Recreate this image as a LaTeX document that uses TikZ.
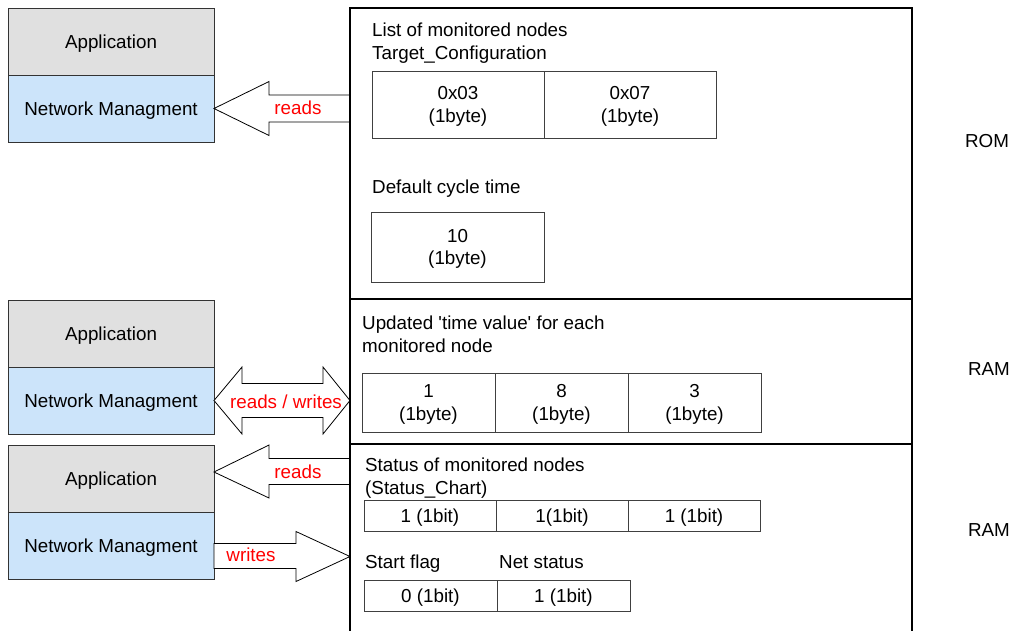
\documentclass[tikz,border=0pt]{standalone}
\usepackage{fontspec}
\setmainfont{Liberation Sans}
\usetikzlibrary{positioning}
\definecolor{appgray}{RGB}{224,224,224}
\definecolor{nmblue}{RGB}{204,228,250}
\begin{document}
\begin{tikzpicture}[x=1pt,y=-1pt,font=\fontsize{18.8}{22.5}\selectfont,
  layer/.style={draw=black!80,line width=0.8pt,minimum width=206,minimum height=67,inner sep=0,outer sep=0,text depth=0pt},
  app/.style={layer,fill=appgray},
  nm/.style={layer,fill=nmblue},
  region/.style={draw,line width=2pt,minimum width=562,inner sep=0,outer sep=0},
  cell/.style={draw=black!75,line width=0.8pt,align=center,inner sep=0,outer sep=0,text depth=0pt},
  caption/.style={anchor=west,align=left,inner sep=0,text depth=0pt},
  blockarr/.style={draw,fill=white,line width=0.8pt},
  acc/.style={text=red,inner sep=0,text depth=0pt}]

\useasboundingbox (0,0) rectangle (1018,630);

\node[app] (app1) at (111,41.5) {Application};
\node[nm,below=0pt of app1] (nm1) {Network Managment};
\node[app] (app2) at (111,333.5) {Application};
\node[nm,below=0pt of app2] (nm2) {Network Managment};
\node[app] (app3) at (111,478.5) {Application};
\node[nm,below=0pt of app3] (nm3) {Network Managment};

\draw[blockarr] (nm1.east) -- ++(55,-27) -- ++(0,13.5) -- ++(81,0) -- ++(0,27) -- ++(-81,0) -- ++(0,13.5) -- cycle;
\draw[blockarr] (nm2.east) -- ++(28,-33.5) -- ++(0,16.5) -- ++(81,0) -- ++(0,-16.5) -- ++(27,33.5) -- ++(-27,33.5) -- ++(0,-16.5) -- ++(-81,0) -- ++(0,16.5) -- cycle;
\draw[blockarr] (app3.east) ++(0,-6.5) -- ++(55,-27) -- ++(0,13.5) -- ++(81,0) -- ++(0,26) -- ++(-81,0) -- ++(0,13.5) -- cycle;
\draw[blockarr] (nm3.east) ++(0,-2) -- ++(82,0) -- ++(0,-12) -- ++(54,25) -- ++(-54,25) -- ++(0,-13) -- ++(-82,0) -- cycle;

\node[acc] (rd1) at (298,107.5) {reads};
\node[acc] (rw2) at (286,401.5) {reads / writes};
\node[acc] (rd3) at (298,471.5) {reads};
\node[acc] (wr3) at (251,554.5) {writes};

\node[region,minimum height=291] (rom) at (631,153.5) {};
\node[region,minimum height=145,below=0pt of rom] (ram1) {};
\node[region,minimum height=200,below=0pt of ram1] (ram2) {};

\node (romtag) at (987,141) {ROM};
\node (ramtag1) at (989,369) {RAM};
\node (ramtag2) at (989,530) {RAM};

\node[caption] (lst) at (372,41) {List of monitored nodes\\Target\_Configuration};
\node[cell,minimum width=172,minimum height=67] (id1) at (458,104.5) {0x03\\(1byte)};
\node[cell,minimum width=172,minimum height=67,right=0pt of id1] (id2) {0x07\\(1byte)};
\node[caption] (dct) at (372,187) {Default cycle time};
\node[cell,minimum width=173,minimum height=70] (cyc) at (457.5,247) {10\\(1byte)};

\node[caption] (upd) at (362,334) {Updated \textquotesingle time value\textquotesingle{} for each\\monitored node};
\node[cell,minimum width=133,minimum height=59] (tv1) at (428.5,402.5) {1\\(1byte)};
\node[cell,minimum width=133,minimum height=59,right=0pt of tv1] (tv2) {8\\(1byte)};
\node[cell,minimum width=133,minimum height=59,right=0pt of tv2] (tv3) {3\\(1byte)};

\node[caption] (sta) at (365,476) {Status of monitored nodes\\(Status\_Chart)};
\node[cell,minimum width=132,minimum height=31] (sc1) at (430,515.5) {1 (1bit)};
\node[cell,minimum width=132,minimum height=31,right=0pt of sc1] (sc2) {1(1bit)};
\node[cell,minimum width=132,minimum height=31,right=0pt of sc2] (sc3) {1 (1bit)};

\node[caption] (sfl) at (365,562) {Start flag};
\node[caption] (nst) at (499,562) {Net status};
\node[cell,minimum width=133,minimum height=31] (fl1) at (430.5,595.5) {0 (1bit)};
\node[cell,minimum width=133,minimum height=31,right=0pt of fl1] (fl2) {1 (1bit)};
\end{tikzpicture}
\end{document}
